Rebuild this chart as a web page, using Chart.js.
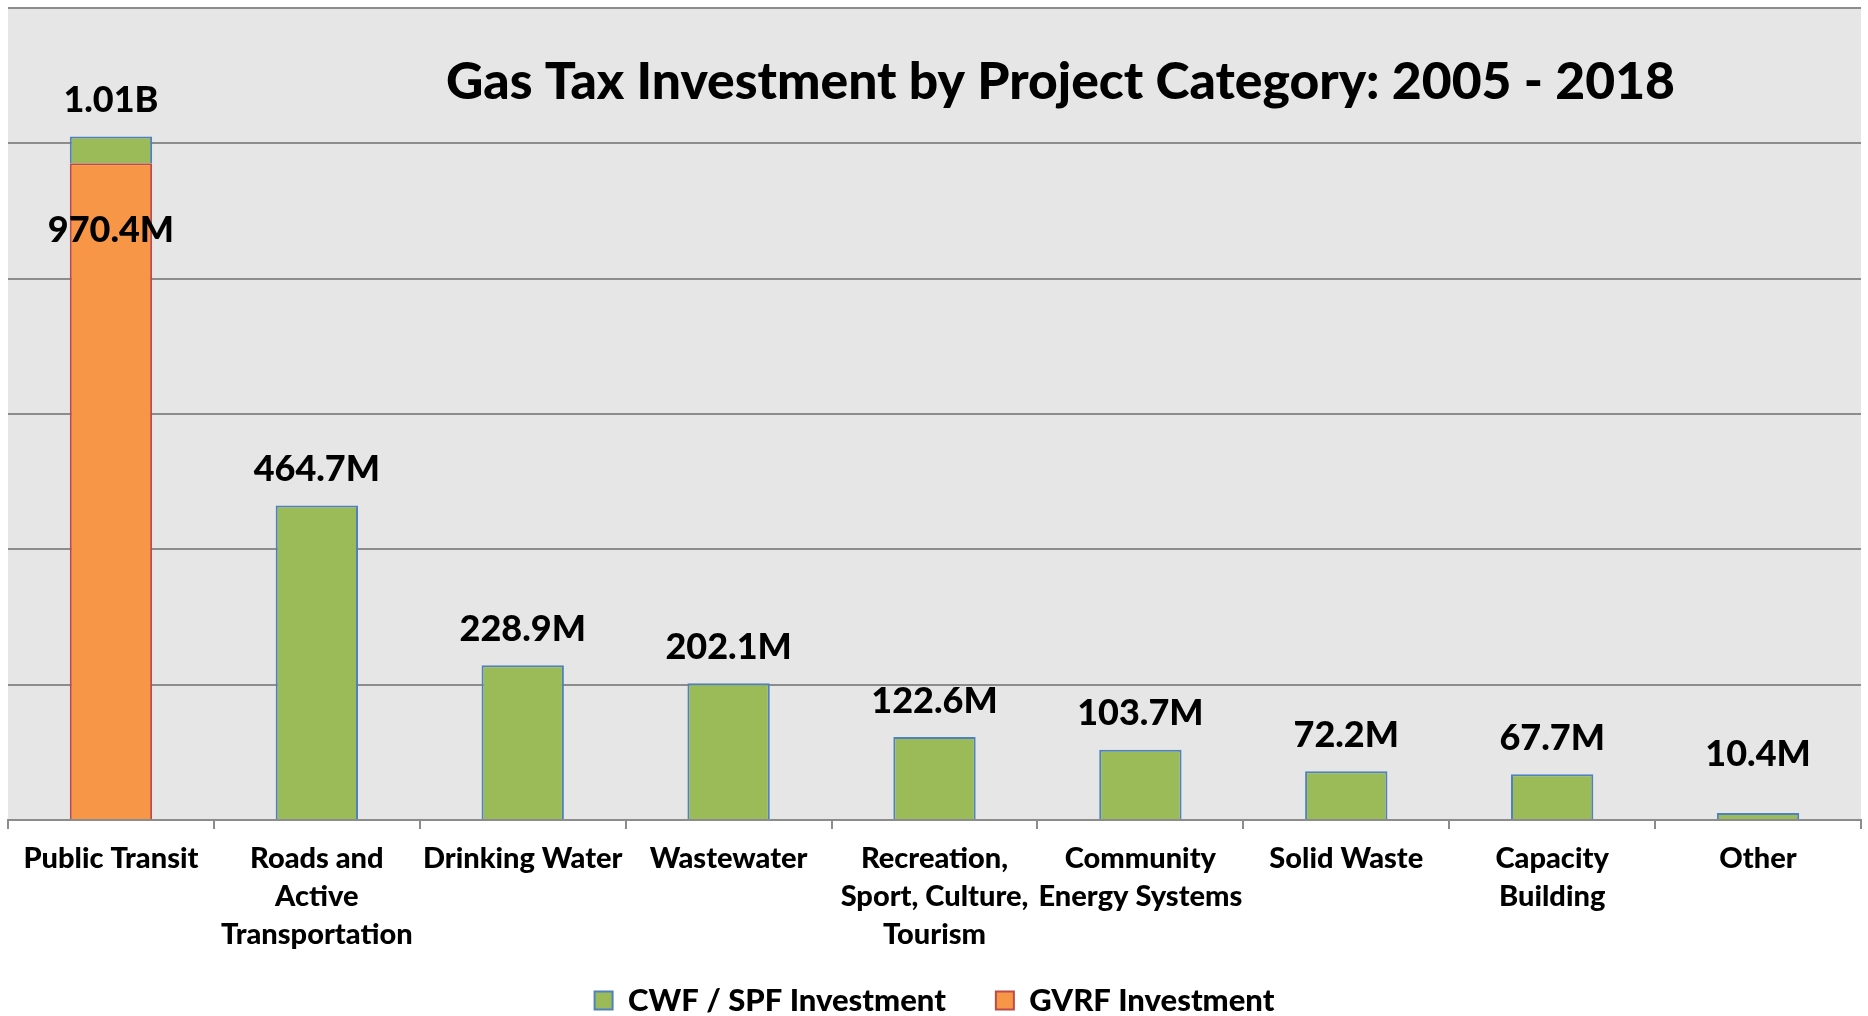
<!DOCTYPE html>
<html>
<head>
<meta charset="utf-8">
<title>Gas Tax Investment by Project Category</title>
<script src="https://cdn.jsdelivr.net/npm/chart.js@4.4.1/dist/chart.umd.min.js"></script>
<style>
  html, body { margin: 0; padding: 0; background: #fff; overflow: hidden; }
  #wrap { position: relative; width: 1868px; height: 1026px; }
</style>
</head>
<body>
<div id="wrap"><canvas id="mycanvas"></canvas></div>
<script>
// values in millions of dollars
var categories = [
	"Public Transit",
	["Roads and", "Active", "Transportation"],
	"Drinking Water",
	"Wastewater",
	["Recreation,", "Sport, Culture,", "Tourism"],
	["Community", "Energy Systems"],
	"Solid Waste",
	["Capacity", "Building"],
	"Other"
];
var cwfValues = [39.6, 464.7, 228.9, 202.1, 122.6, 103.7, 72.2, 67.7, 10.4];
var gvrfValues = [970.4, 0, 0, 0, 0, 0, 0, 0, 0];
var chartTitle = "Gas Tax Investment by Project Category: 2005 - 2018";

var FONT = "Lato, 'Open Sans', sans-serif";
var WEIGHT = "900";

function fmt(v) {
	if (v >= 1000) return (v / 1000).toFixed(2) + "B";
	return v.toFixed(1) + "M";
}

// gray plot background
var plotBg = {
	id: 'plotBg',
	afterLayout: function(chart) {
		// x axis was squeezed in afterFit, let its labels draw past the box
		chart.scales.x.bottom += 40;
	},
	beforeDraw: function(chart) {
		var a = chart.chartArea, ctx = chart.ctx;
		ctx.save();
		ctx.fillStyle = '#e6e6e6';
		ctx.fillRect(a.left, a.top, a.right - a.left, a.bottom - a.top);
		ctx.restore();
	}
};

// title drawn inside the plot + value labels
var labelsPlugin = {
	id: 'labelsPlugin',
	afterDatasetsDraw: function(chart) {
		var ctx = chart.ctx, a = chart.chartArea;
		var y = chart.scales.y, x = chart.scales.x;
		ctx.save();
		ctx.fillStyle = '#000';
		ctx.textAlign = 'center';
		ctx.textBaseline = 'middle';

		ctx.font = WEIGHT + " 51.6px " + FONT;
		ctx.fillText(chartTitle, a.left + (a.right - a.left) * 0.568, a.top + 74);

		ctx.font = WEIGHT + " 36px " + FONT;
		for (var i = 0; i < categories.length; i++) {
			var total = cwfValues[i] + gvrfValues[i];
			var cx = x.getPixelForValue(i);
			var top = y.getPixelForValue(total);
			var ly = Math.min(top - 36, a.bottom - 66);
			ctx.fillText(fmt(total), cx, ly);
			if (gvrfValues[i] > 0) {
				ctx.fillText(fmt(gvrfValues[i]), cx, y.getPixelForValue(gvrfValues[i]) + 67);
			}
		}
		ctx.restore();
	}
};

var ctx = document.getElementById('mycanvas');
var chartdata = {
	labels: categories,
	datasets: [
		{
			label: "GVRF Investment",
			backgroundColor: "#f79646",
			borderColor: "#be4b48",
			borderWidth: 2,
			data: gvrfValues
		},
		{
			label: "CWF / SPF Investment",
			backgroundColor: "#9bbb59",
			borderColor: "#4f81bd",
			borderWidth: 2,
			data: cwfValues
		}
	]
};

var barGraph = new Chart(ctx, {
	type: 'bar',
	data: chartdata,
	plugins: [plotBg, labelsPlugin],
	options: {
		responsive: true,
		maintainAspectRatio: false,
		animation: false,
		layout: { padding: { left: 8, right: 7, top: 8, bottom: 0 } },
		datasets: {
			bar: { categoryPercentage: 1, barPercentage: 0.4 }
		},
		plugins: {
			legend: {
				position: 'bottom',
				reverse: true,
				labels: {
					boxWidth: 18,
					boxHeight: 18,
					padding: 50,
					color: '#000',
					font: { family: FONT, size: 31, weight: WEIGHT }
				}
			},
			title: { display: false },
			tooltip: { enabled: false }
		},
		scales: {
			x: {
				stacked: true,
				afterFit: function(scale) { scale.height -= 30; },
				grid: {
					drawOnChartArea: false,
					color: '#8c8c8c',
					lineWidth: 2,
					tickLength: 9
				},
				border: { color: '#8c8c8c', width: 2 },
				ticks: {
					color: '#000',
					padding: 11,
					maxRotation: 0,
					autoSkip: false,
					font: { family: FONT, size: 29, weight: WEIGHT, lineHeight: 1.31 }
				}
			},
			y: {
				stacked: true,
				min: 0,
				max: 1200,
				grid: { color: '#8c8c8c', lineWidth: 2, drawTicks: false },
				border: { display: false },
				ticks: { display: false, stepSize: 200 }
			}
		}
	}
});
</script>
</body>
</html>
